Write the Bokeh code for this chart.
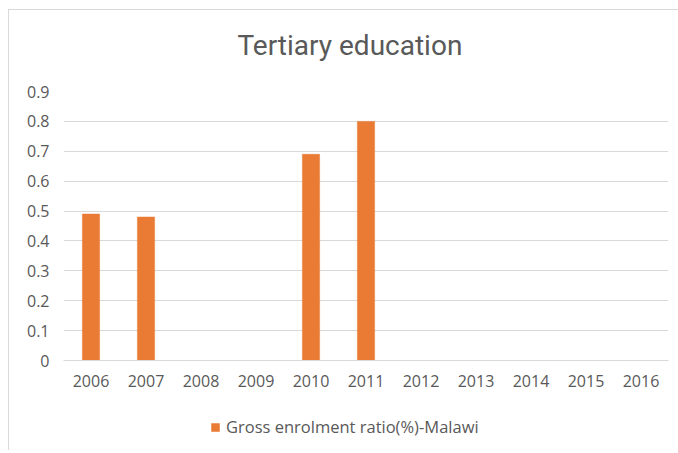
from bokeh.plotting import figure
from bokeh.layouts import column
from bokeh.models import ColumnDataSource, Range1d, FixedTicker, Legend, LegendItem, Title
from bokeh.embed import file_html
from bokeh.resources import INLINE

years = ["2006", "2007", "2008", "2009", "2010", "2011", "2012", "2013", "2014", "2015", "2016"]
enrolment = [0.49, 0.48, float("nan"), float("nan"), 0.69, 0.80,
             float("nan"), float("nan"), float("nan"), float("nan"), float("nan")]
y_ticks = [0, 0.1, 0.2, 0.3, 0.4, 0.5, 0.6, 0.7, 0.8, 0.9]
y_labels = ["0", "0.1", "0.2", "0.3", "0.4", "0.5", "0.6", "0.7", "0.8", "0.9"]
series_name = "Gross enrolment ratio(%)-Malawi"
chart_title = "Tertiary education"

TEXT = "#595959"
GRID = "#d9d9d9"
BAR = "#E97B35"
TFONT = "Roboto"
FONT = "Open Sans"

src = ColumnDataSource(data=dict(year=years, value=enrolment))

# main chart
p = figure(x_range=years, y_range=Range1d(0, 0.9), width=669, height=400,
           output_backend="svg", toolbar_location=None,
           min_border_left=54, min_border_right=10, min_border_top=81, min_border_bottom=50)
p.title = None
p.background_fill_color = "white"
p.border_fill_color = "white"
p.outline_line_color = None

p.vbar(x="year", top="value", width=0.313, source=src,
       fill_color=BAR, line_color=BAR, line_width=0.5)

spacer = Title(text=" ", text_font_size="21px", standoff=0)
p.add_layout(spacer, "above")
t = Title(text=chart_title, align="left", offset=174, text_font=TFONT,
          text_font_size="28px", text_font_style="normal", text_color=TEXT)
p.add_layout(t, "above")

p.yaxis.ticker = FixedTicker(ticks=y_ticks)
p.yaxis.major_label_overrides = {tk: lb for tk, lb in zip(y_ticks, y_labels)}
p.yaxis.axis_line_color = None
p.yaxis.major_tick_line_color = None
p.yaxis.minor_tick_line_color = None
p.yaxis.major_label_text_font = FONT
p.yaxis.major_label_text_font_size = "16px"
p.yaxis.major_label_text_color = TEXT
p.yaxis.major_label_standoff = 8

p.xaxis.axis_line_color = GRID
p.xaxis.axis_line_width = 1
p.xaxis.major_tick_line_color = None
p.xaxis.minor_tick_line_color = None
p.xaxis.major_label_text_font = FONT
p.xaxis.major_label_text_font_size = "16px"
p.xaxis.major_label_text_color = TEXT
p.xaxis.major_label_standoff = 8

p.xgrid.grid_line_color = None
p.ygrid.ticker = FixedTicker(ticks=y_ticks)
p.ygrid.grid_line_color = GRID
p.ygrid.grid_line_width = 1

# legend strip (same series, its bars kept outside the visible range)
lg = figure(x_range=years, y_range=Range1d(10, 11), width=669, height=40,
            output_backend="svg", toolbar_location=None,
            x_axis_location=None, y_axis_location=None,
            min_border_left=0, min_border_right=0, min_border_top=0, min_border_bottom=0)
lg.title = None
lg.outline_line_color = None
lg.grid.visible = False
lg.border_fill_color = "white"
lr = lg.vbar(x="year", top="value", width=0.313, source=src,
             fill_color=BAR, line_color=BAR, line_width=0.5)
legend = Legend(items=[LegendItem(label=series_name, renderers=[lr])],
                location=(147, 12), orientation="horizontal",
                padding=0, margin=0, border_line_color=None, background_fill_alpha=0,
                glyph_width=10, glyph_height=10, label_standoff=6,
                label_text_font=FONT, label_text_font_size="16.5px", label_text_color=TEXT)
lg.add_layout(legend, "center")

layout = column(p, lg, spacing=0)
layout.styles = {"margin-left": "8px", "margin-top": "9px",
                 "border-left": "1px solid #d9d9d9", "border-top": "1px solid #d9d9d9"}

open("out.html", "w").write(file_html(layout, INLINE))
